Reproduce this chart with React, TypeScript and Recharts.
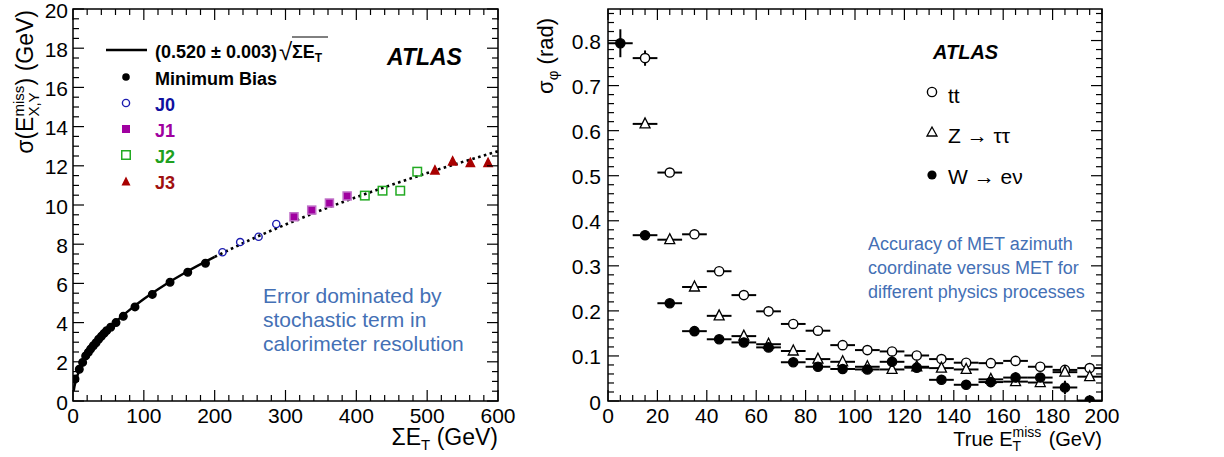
import React from 'react';
import { ComposedChart, Line, Scatter, XAxis, YAxis, ReferenceArea, ErrorBar } from 'recharts';

const FONT = '"Liberation Sans", Arial, Helvetica, sans-serif';
const NOTE_BLUE = '#4470b5';

// ---- left panel: sigma(Exy miss) vs sum Et ----
const mbSumEt = [2.8, 8.9, 13.6, 17.9, 21.6, 24.9, 28.7, 32.5, 36.2, 40, 43.8, 47.5, 53.2, 60.7, 71, 87.5, 112, 137, 162, 187];
const mbSigma = [1.12, 1.62, 1.97, 2.3, 2.48, 2.65, 2.82, 2.97, 3.15, 3.3, 3.45, 3.59, 3.76, 4.0, 4.32, 4.8, 5.44, 6.06, 6.57, 7.03];
const j0SumEt = [211, 236, 262, 287];
const j0Sigma = [7.59, 8.11, 8.38, 9.03];
const j1SumEt = [312, 337, 362, 387];
const j1Sigma = [9.4, 9.74, 10.1, 10.46];
const j2SumEt = [412, 437, 462, 486];
const j2Sigma = [10.48, 10.73, 10.73, 11.7];
const j3SumEt = [511, 536, 561, 586];
const j3Sigma = [11.75, 12.21, 12.13, 12.13];
const fitSolidX = [1, 2, 5, 10, 20, 30, 40, 60, 80, 100, 130, 160, 200];
const fitSolidY = [0.52, 0.74, 1.16, 1.64, 2.33, 2.85, 3.29, 4.03, 4.65, 5.2, 5.93, 6.58, 7.35];
const fitDotX = [200, 250, 300, 350, 400, 450, 500, 550, 600];
const fitDotY = [7.35, 8.22, 9.0, 9.73, 10.4, 11.03, 11.63, 12.2, 12.74];

// ---- right panel: sigma_phi vs true MET ----
const metBins = [5, 15, 25, 35, 45, 55, 65, 75, 85, 95, 105, 115, 125, 135, 145, 155, 165, 175, 185, 195];
const ttPhi = [null, 0.761, 0.507, 0.37, 0.288, 0.235, 0.199, 0.171, 0.156, 0.124, 0.113, 0.11, 0.101, 0.093, 0.085, 0.084, 0.089, 0.076, 0.069, 0.073];
const ttErr = [0, 0.017, 0.005, 0.005, 0.004, 0.004, 0.004, 0.004, 0.004, 0.004, 0.004, 0.004, 0.004, 0.004, 0.004, 0.004, 0.006, 0.005, 0.005, 0.005];
const ztautauPhi = [null, 0.615, 0.358, 0.253, 0.189, 0.144, 0.126, 0.111, 0.093, 0.087, 0.076, 0.07, 0.076, 0.073, 0.07, 0.048, 0.043, 0.041, 0.064, 0.054];
const ztautauErr = [0, 0.006, 0.005, 0.005, 0.004, 0.004, 0.004, 0.004, 0.004, 0.004, 0.004, 0.004, 0.004, 0.004, 0.004, 0.005, 0.005, 0.005, 0.006, 0.006];
const wenuPhi = [0.794, 0.368, 0.217, 0.155, 0.137, 0.13, 0.119, 0.086, 0.076, 0.071, 0.07, 0.087, 0.074, 0.047, 0.036, 0.042, 0.052, 0.052, 0.03, 0.001];
const wenuErr = [0.031, 0.006, 0.006, 0.005, 0.004, 0.004, 0.004, 0.004, 0.004, 0.004, 0.005, 0.012, 0.006, 0.006, 0.005, 0.006, 0.012, 0.01, 0.015, 0.005];
const binHalfWidth = 5;

const pts = (xs: number[], ys: (number | null)[]) =>
  xs.map((x, i) => ({ x, y: ys[i] })).filter(d => d.y !== null);
const binPts = (ys: (number | null)[], errs: number[]) =>
  metBins
    .map((x, i) => ({ x, y: ys[i], xErr: binHalfWidth, yErr: errs[i] }))
    .filter(d => d.y !== null);

const range = (from: number, to: number, step: number) => {
  const out: number[] = [];
  for (let v = from; v <= to + 1e-9; v += step) out.push(Math.round(v * 1000) / 1000);
  return out;
};

// ROOT style ticks: inside the frame, mirrored on the opposite side.
// Tick props give the axis-line position; frame edges come from the panel layout.
const xTick = (bottom: number, top: number, isMajor: (v: number) => boolean) => (p: any) => {
  const { x, payload } = p;
  const major = isMajor(payload.value);
  const len = major ? 11 : 6;
  return (
    <g>
      <line x1={x} y1={bottom} x2={x} y2={bottom - len} stroke="#000" strokeWidth={1.2} />
      <line x1={x} y1={top} x2={x} y2={top + len} stroke="#000" strokeWidth={1.2} />
      {major && (
        <text x={x} y={bottom + 22} textAnchor="middle" fontSize={21} fontFamily={FONT} fill="#000">
          {payload.value}
        </text>
      )}
    </g>
  );
};

const yTick = (left: number, right: number, isMajor: (v: number) => boolean, fmt: (v: number) => string, gap: number) => (p: any) => {
  const { y, payload } = p;
  const major = isMajor(payload.value);
  const len = major ? 11 : 6;
  return (
    <g>
      <line x1={left} y1={y} x2={left + len} y2={y} stroke="#000" strokeWidth={1.2} />
      <line x1={right} y1={y} x2={right - len} y2={y} stroke="#000" strokeWidth={1.2} />
      {major && (
        <text x={left - gap} y={y + 8.5} textAnchor="end" fontSize={21} fontFamily={FONT} fill="#000">
          {fmt(payload.value)}
        </text>
      )}
    </g>
  );
};

const dot = (r: number, fill: string, stroke: string) => (p: any) =>
  <circle cx={p.cx} cy={p.cy} r={r} fill={fill} stroke={stroke} strokeWidth={1.4} />;
const square = (s: number, fill: string, stroke: string) => (p: any) =>
  <rect x={p.cx - s / 2} y={p.cy - s / 2} width={s} height={s} fill={fill} stroke={stroke} strokeWidth={1.5} />;
const tri = (s: number, fill: string, stroke: string) => (p: any) => (
  <polygon
    points={`${p.cx},${p.cy - s * 0.6} ${p.cx - s / 2},${p.cy + s * 0.4} ${p.cx + s / 2},${p.cy + s * 0.4}`}
    fill={fill}
    stroke={stroke}
    strokeWidth={1.3}
  />
);

const L = { left: 73, top: 9, right: 498, bottom: 401, w: 520 };
const R = { left: 608, top: 9, right: 1102, bottom: 401, offset: 520, w: 704 };
const AX = 20; // space reserved for each axis

const LeftPanel = () => (
  <ComposedChart width={L.w} height={457} margin={{ top: L.top, right: L.w - L.right, bottom: 457 - L.bottom - AX, left: L.left - AX }}>
    <XAxis
      type="number"
      dataKey="x"
      domain={[0, 600]}
      ticks={range(0, 600, 20)}
      interval={0}
      height={AX}
      tickLine={false}
      axisLine={false}
      allowDataOverflow
      tick={xTick(L.bottom, L.top, v => v % 100 === 0)}
    />
    <YAxis
      type="number"
      dataKey="y"
      domain={[0, 20]}
      ticks={range(0, 20, 0.5)}
      interval={0}
      width={AX}
      tickLine={false}
      axisLine={false}
      allowDataOverflow
      tick={yTick(L.left, L.right, v => v % 2 === 0, v => String(v), 5)}
    />
    <Line data={pts(fitSolidX, fitSolidY)} dataKey="y" type="monotone" stroke="#000" strokeWidth={2.5} dot={false} isAnimationActive={false} />
    <Line data={pts(fitDotX, fitDotY)} dataKey="y" type="monotone" stroke="#000" strokeWidth={2.6} strokeDasharray="2.6 3.4" dot={false} isAnimationActive={false} />
    <Scatter data={pts(mbSumEt, mbSigma)} shape={dot(3.8, '#000', '#000')} isAnimationActive={false} />
    <Scatter data={pts(j0SumEt, j0Sigma)} shape={dot(3.6, 'none', '#1c1cb0')} isAnimationActive={false} />
    <Scatter data={pts(j1SumEt, j1Sigma)} shape={square(8, '#a000a0', '#c070c8')} isAnimationActive={false} />
    <Scatter data={pts(j2SumEt, j2Sigma)} shape={square(8.5, 'none', '#22aa22')} isAnimationActive={false} />
    <Scatter data={pts(j3SumEt, j3Sigma)} shape={tri(8.5, '#a80000', '#a80000')} isAnimationActive={false} />
    <ReferenceArea x1={0} x2={600} y1={0} y2={20} fill="none" stroke="#000" strokeWidth={1.5} />
  </ComposedChart>
);

const RightPanel = () => (
  <ComposedChart width={R.w} height={457} margin={{ top: R.top, right: R.offset + R.w - R.right, bottom: 457 - R.bottom - AX, left: R.left - R.offset - AX }}>
    <XAxis
      type="number"
      dataKey="x"
      domain={[0, 200]}
      ticks={range(0, 200, 5)}
      interval={0}
      height={AX}
      tickLine={false}
      axisLine={false}
      allowDataOverflow
      tick={xTick(R.bottom, R.top, v => v % 20 === 0)}
    />
    <YAxis
      type="number"
      dataKey="y"
      domain={[0, 0.87]}
      ticks={range(0, 0.86, 0.02)}
      interval={0}
      width={AX}
      tickLine={false}
      axisLine={false}
      allowDataOverflow
      tick={yTick(R.left - R.offset, R.right - R.offset, v => Math.round(v * 100) % 10 === 0, v => (v === 0 ? '0' : v.toFixed(1)), 7)}
    />
    <Scatter data={binPts(ttPhi, ttErr)} shape={dot(4.6, '#fff', '#000')} isAnimationActive={false}>
      <ErrorBar dataKey="xErr" direction="x" width={0} stroke="#000" strokeWidth={2} />
      <ErrorBar dataKey="yErr" direction="y" width={0} stroke="#000" strokeWidth={2} />
    </Scatter>
    <Scatter data={binPts(ztautauPhi, ztautauErr)} shape={tri(10, '#fff', '#000')} isAnimationActive={false}>
      <ErrorBar dataKey="xErr" direction="x" width={0} stroke="#000" strokeWidth={2} />
      <ErrorBar dataKey="yErr" direction="y" width={0} stroke="#000" strokeWidth={2} />
    </Scatter>
    <Scatter data={binPts(wenuPhi, wenuErr)} shape={dot(4.6, '#000', '#000')} isAnimationActive={false}>
      <ErrorBar dataKey="xErr" direction="x" width={0} stroke="#000" strokeWidth={2} />
      <ErrorBar dataKey="yErr" direction="y" width={0} stroke="#000" strokeWidth={2} />
    </Scatter>
    <ReferenceArea x1={0} x2={200} y1={0} y2={0.87} fill="none" stroke="#000" strokeWidth={1.5} />
  </ComposedChart>
);

const Annotations = () => (
  <svg width={1224} height={457} style={{ position: 'absolute', left: 0, top: 0, pointerEvents: 'none' }} fontFamily={FONT}>
    {/* left axis titles */}
    <text transform="translate(33,10) rotate(-90)" textAnchor="end" fontSize={23}>
      σ(E
      <tspan dy={-9} fontSize={15}>miss</tspan>
      <tspan dx={-30.8} dy={15} fontSize={15}>X,Y</tspan>
      <tspan dx={7} dy={-6} fontSize={23}>) (GeV)</tspan>
    </text>
    <text x={L.right} y={445} textAnchor="end" fontSize={23}>
      ΣE<tspan dy={5} fontSize={15}>T</tspan>
      <tspan dy={-5}> (GeV)</tspan>
    </text>

    {/* left legend */}
    <line x1={106} y1={50} x2={147} y2={50} stroke="#000" strokeWidth={2.5} />
    <text x={155} y={58} fontSize={18} fontWeight="bold">(0.520 ± 0.003)</text>
    <text x={279} y={60} fontSize={24}>√</text>
    <line x1={292} y1={37} x2={328} y2={37} stroke="#000" strokeWidth={1} />
    <text x={292} y={58} fontSize={18} fontWeight="bold">
      ΣE<tspan dy={4} fontSize={12}>T</tspan>
    </text>
    <circle cx={126} cy={77} r={3.8} fill="#000" />
    <text x={155} y={85} fontSize={18} fontWeight="bold">Minimum Bias</text>
    <circle cx={126} cy={103} r={3.6} fill="none" stroke="#1c1cb0" strokeWidth={1.4} />
    <text x={155} y={111} fontSize={18} fontWeight="bold" fill="#1010a0">J0</text>
    <rect x={122} y={125} width={8} height={8} fill="#a000a0" />
    <text x={155} y={137} fontSize={18} fontWeight="bold" fill="#a000a0">J1</text>
    <rect x={121.75} y={150.75} width={8.5} height={8.5} fill="none" stroke="#22aa22" strokeWidth={1.5} />
    <text x={155} y={163} fontSize={18} fontWeight="bold" fill="#20a020">J2</text>
    <polygon points="126,176.6 121.5,185.6 130.5,185.6" fill="#a80000" />
    <text x={155} y={189} fontSize={18} fontWeight="bold" fill="#a01010">J3</text>
    <text x={387} y={65} fontSize={23} fontWeight="bold" fontStyle="italic">ATLAS</text>

    <text fontSize={21} fill={NOTE_BLUE}>
      <tspan x={263} y={303}>Error dominated by</tspan>
      <tspan x={263} y={327}>stochastic term in</tspan>
      <tspan x={263} y={351}>calorimeter resolution</tspan>
    </text>

    {/* right axis titles */}
    <text transform="translate(553,18) rotate(-90)" textAnchor="end" fontSize={22}>
      σ<tspan dy={5} fontSize={15}>φ</tspan>
      <tspan dy={-5}> (rad)</tspan>
    </text>
    <text x={R.right} y={446} textAnchor="end" fontSize={20}>
      True E
      <tspan dy={-9} fontSize={14}>miss</tspan>
      <tspan dx={-28.8} dy={14} fontSize={14}>T</tspan>
      <tspan dx={22} dy={-5} fontSize={20}> (GeV)</tspan>
    </text>

    {/* right legend */}
    <text x={933} y={59} fontSize={20} fontWeight="bold" fontStyle="italic">ATLAS</text>
    <circle cx={932} cy={92} r={4.6} fill="#fff" stroke="#000" strokeWidth={1.4} />
    <text x={948} y={103} fontSize={21}>tt</text>
    <polygon points="932,127 927,136 937,136" fill="#fff" stroke="#000" strokeWidth={1.3} />
    <text x={948} y={143} fontSize={21}>Z → ττ</text>
    <circle cx={932} cy={175} r={4.6} fill="#000" />
    <text x={948} y={184} fontSize={21}>W → eν</text>

    <text fontSize={18} fill={NOTE_BLUE}>
      <tspan x={868} y={250}>Accuracy of MET azimuth</tspan>
      <tspan x={868} y={274}>coordinate versus MET for</tspan>
      <tspan x={868} y={298}>different physics processes</tspan>
    </text>
  </svg>
);

export default function App() {
  return (
    <div style={{ position: 'absolute', left: 0, top: 0, width: 1224, height: 457, background: '#fff', fontFamily: FONT }}>
      <div style={{ position: 'absolute', left: 0, top: 0 }}>
        <LeftPanel />
      </div>
      <div style={{ position: 'absolute', left: R.offset, top: 0 }}>
        <RightPanel />
      </div>
      <Annotations />
    </div>
  );
}
